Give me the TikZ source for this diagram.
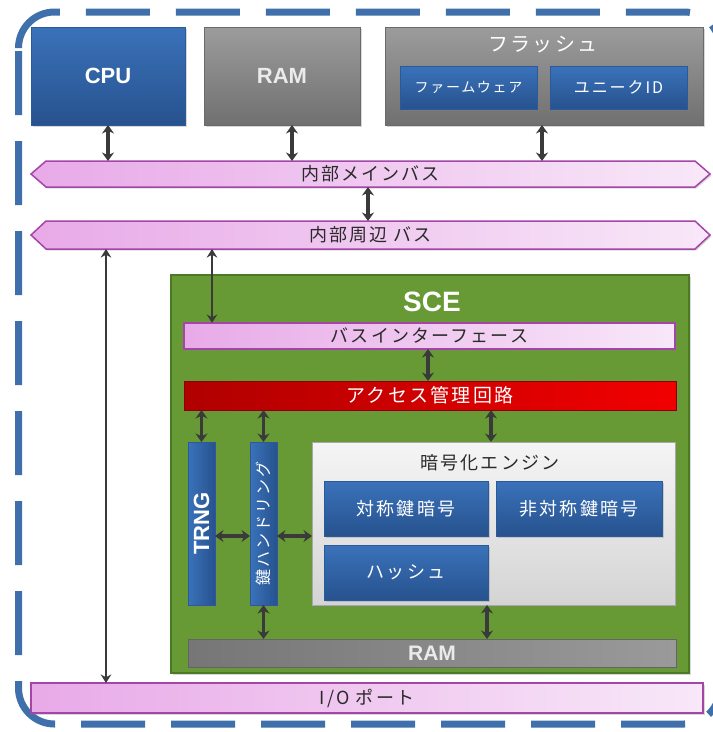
\documentclass[tikz,border=0pt]{standalone}
\usepackage{fontspec}
\usepackage{graphicx}
\setmainfont{Liberation Sans}
\newfontfamily\jp[LetterSpace=12]{Noto Sans CJK JP}
\usetikzlibrary{arrows.meta,shadows,calc}
\definecolor{frameblue}{HTML}{4070AC}
\definecolor{blueT}{HTML}{3A72BA}
\definecolor{blueB}{HTML}{27528E}
\definecolor{blueD}{HTML}{2A5A98}
\definecolor{grayT}{HTML}{9C9C9C}
\definecolor{grayB}{HTML}{707070}
\definecolor{grayD}{HTML}{6A6A6A}
\definecolor{pinkL}{HTML}{E8AAE8}
\definecolor{pinkR}{HTML}{F8E8F8}
\definecolor{pinkD}{HTML}{A445A8}
\definecolor{redL}{HTML}{B00000}
\definecolor{redR}{HTML}{F20000}
\definecolor{sceG}{HTML}{679A35}
\definecolor{sceD}{HTML}{4B7A26}
\definecolor{ramL}{HTML}{767676}
\definecolor{ramR}{HTML}{9A9A9A}
\definecolor{engT}{HTML}{F5F5F5}
\definecolor{engB}{HTML}{D4D4D4}
\definecolor{engD}{HTML}{A8A8A8}
\definecolor{arrowc}{HTML}{3A3A3A}
\definecolor{txtc}{HTML}{2A2A2A}
\newcommand\jfs[1]{\jp\fontsize{#1}{#1}\selectfont}
\newcommand\lfs[1]{\bfseries\fontsize{#1}{#1}\selectfont}
\begin{document}
\begin{tikzpicture}[x=1pt,y=-1pt,
  shd/.style={drop shadow={shadow xshift=1.5pt,shadow yshift=-1.5pt,opacity=0.3}},
  box/.style={rectangle,inner sep=0pt,outer sep=0pt},
  bluebox/.style={box,shd,draw=blueD,line width=0.6pt,top color=blueT,bottom color=blueB,text=white},
  bluevbox/.style={box,shd,draw=blueD,line width=0.6pt,left color=blueT,right color=blueB,text=white},
  graybox/.style={box,shd,draw=grayD,line width=0.6pt,top color=grayT,bottom color=grayB,text=white!92!black},
  busfill/.style={shd,draw=pinkD,line width=1.5pt,left color=pinkL,right color=pinkR},
  bustext/.style={box,text=txtc,font=\jfs{18}},
  pinkbox/.style={box,shd,draw=pinkD,line width=1.5pt,left color=pinkL,right color=pinkR,text=txtc,font=\jfs{18}},
  bi/.style={draw=arrowc,line width=3.4pt,>={Stealth[length=8.5pt,width=12pt]},<->},
  thinbi/.style={draw=arrowc,line width=2.2pt,>={Stealth[length=8.5pt,width=10.5pt]},<->},
]
\useasboundingbox (0,0) rectangle (713,732);
\fill[white] (0,0) rectangle (713,732);
% outer frame
\draw[frameblue,line width=7pt,dash pattern=on 64pt off 26pt,rounded corners=36pt]
  (18.5,82) -- (18.5,12) -- (720,12) -- (720,724) -- (18.5,724) -- cycle;

% top row
\node[bluebox,minimum width=154pt,minimum height=98pt,font=\lfs{22}] (cpu) at (108,76) {CPU};
\node[graybox,minimum width=156pt,minimum height=98pt,font=\lfs{22}] (ram) at (282,76) {RAM};
\node[graybox,minimum width=318pt,minimum height=98pt] (flash) at (544,76) {};
\node[text=white,font=\jfs{20}] (flashlbl) at (543,45) {フラッシュ};
\node[bluebox,minimum width=137pt,minimum height=43pt,font=\jfs{14}] (fw) at (468.5,87.5) {ファームウェア};
\node[bluebox,minimum width=137pt,minimum height=43pt,font=\jfs{16}] (uid) at (618.5,87.5) {ユニークID};

% buses
\path[busfill] (31,174) -- (46,161) -- (695,161) -- (710,174) -- (695,187) -- (46,187) -- cycle;
\node[bustext,minimum width=679pt,minimum height=26pt] (mbus) at (370.5,174) {内部メインバス};
\path[busfill] (31,235) -- (46,221) -- (695,221) -- (710,235) -- (695,249) -- (46,249) -- cycle;
\node[bustext,minimum width=679pt,minimum height=28pt] (pbus) at (370.5,235) {内部周辺 バス};

% SCE
\node[box,shd,fill=sceG,draw=sceD,line width=2pt,minimum width=518pt,minimum height=398pt] (sce) at (430,474) {};
\node[text=white,font=\lfs{28}] (scelbl) at (432,302) {SCE};
\node[pinkbox,minimum width=491pt,minimum height=26pt] (busif) at (429.5,336) {バスインターフェース};
\node[box,shd,left color=redL,right color=redR,draw=redL!80!black,line width=0.5pt,text=white,font=\jfs{19},minimum width=492pt,minimum height=29pt] (acc) at (430,395.5) {アクセス管理回路};
\node[bluevbox,minimum width=27pt,minimum height=163pt,font=\lfs{22}] (trng) at (201.5,523.5) {\rotatebox{90}{TRNG}};
\node[bluevbox,minimum width=27pt,minimum height=163pt,font=\jfs{16}] (key) at (263.5,523.5) {\rotatebox{90}{鍵ハンドリング}};
\node[box,shd,draw=engD,line width=0.8pt,top color=engT,bottom color=engB,minimum width=363pt,minimum height=163pt] (eng) at (493.5,523.5) {};
\node[text=txtc,font=\jfs{18}] (englbl) at (490,463) {暗号化エンジン};
\node[bluebox,minimum width=164pt,minimum height=55pt,font=\jfs{18}] (sym) at (406,508.5) {対称鍵暗号};
\node[bluebox,minimum width=166pt,minimum height=55pt,font=\jfs{18}] (asym) at (579,508.5) {非対称鍵暗号};
\node[bluebox,minimum width=164pt,minimum height=55pt,font=\jfs{18}] (hash) at (406,572.5) {ハッシュ};
\node[box,shd,left color=ramL,right color=ramR,draw=ramL!85!black,line width=0.5pt,text=white!92!black,font=\lfs{21},minimum width=488pt,minimum height=28pt] (sram) at (432,653) {RAM};
\node[pinkbox,minimum width=672pt,minimum height=30pt] (io) at (367,698) {I/O ポート};

% connectors
\coordinate (xr) at (292,0);
\coordinate (xf) at (542,0);
\coordinate (xbb) at (368,0);
\coordinate (xio) at (106,0);
\coordinate (xsif) at (212,0);
\coordinate (xacc) at (428,0);
\coordinate (xce) at (491,0);
\coordinate (hy) at (0,536);
\coordinate (xc) at (487,0);

\draw[bi] (cpu.south) -- (cpu.south |- mbus.north);
\draw[bi] (ram.south -| xr) -- (mbus.north -| xr);
\draw[bi] (flash.south -| xf) -- (mbus.north -| xf);
\draw[bi] (mbus.south -| xbb) -- (pbus.north -| xbb);
\draw[thinbi] (pbus.south -| xio) -- (io.north -| xio);
\draw[thinbi] (pbus.south -| xsif) -- (busif.north -| xsif);
\draw[bi] (busif.south -| xacc) -- (acc.north -| xacc);
\draw[bi] (acc.south -| trng.north) -- (trng.north);
\draw[bi] (acc.south -| key.north) -- (key.north);
\draw[bi] (acc.south -| xce) -- (eng.north -| xce);
\draw[bi] (trng.east |- hy) -- (key.west |- hy);
\draw[bi] (key.east |- hy) -- (eng.west |- hy);
\draw[bi] (key.south) -- (key.south |- sram.north);
\draw[bi] (eng.south -| xc) -- (sram.north -| xc);
\end{tikzpicture}
\end{document}
